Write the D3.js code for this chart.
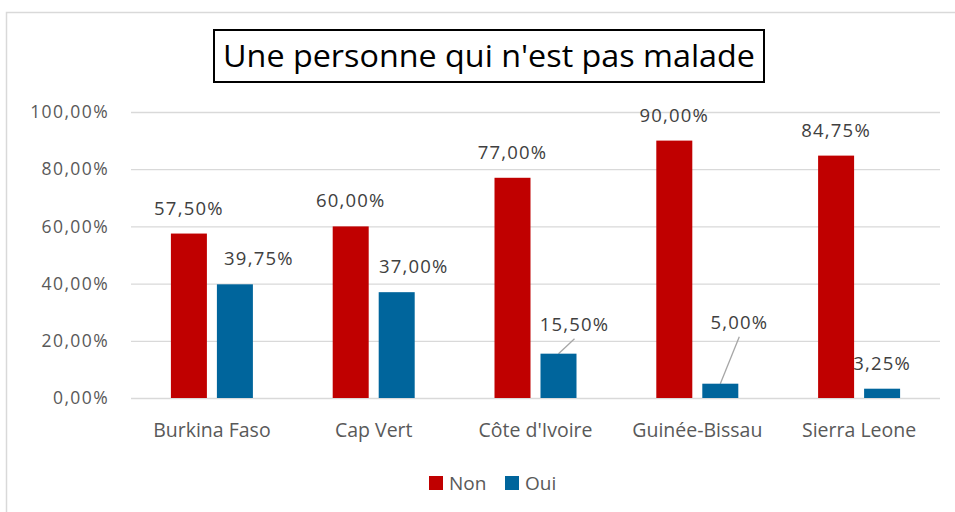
<!DOCTYPE html>
<html>
<head>
<meta charset="utf-8">
<script src="https://cdn.jsdelivr.net/npm/d3@7"></script>
<style>
  body { margin: 0; background: #fff; }
  text { font-family: "Open Sans", sans-serif; }
</style>
</head>
<body>
<script>
// data
const countries = ["Burkina Faso", "Cap Vert", "Côte d'Ivoire", "Guinée-Bissau", "Sierra Leone"]
const non = [0.5750, 0.60, 0.77, 0.90, 0.8475]
const oui = [0.3975, 0.37, 0.155, 0.05, 0.0325]
const yTicks = [0, 0.2, 0.4, 0.6, 0.8, 1.0]
const seriesNames = ["Non", "Oui"]
const colors = ["#c00000", "#00659c"]

// manual label offsets for the Oui labels (dx, dy from default spot)
const ouiLabelShift = [[24, 0], [17, 0], [16, -4], [19, -36], [0, 0]]

const W = 955, H = 512
const svg = d3.select("body").append("svg").attr("width", W).attr("height", H)

svg.append("rect")
    .attr("x", 6.5).attr("y", 12.5)
    .attr("width", W).attr("height", H)
    .attr("fill", "none").attr("stroke", "#d9d9d9").attr("stroke-width", 1.5)

const plotL = 131, plotR = 940, plotT = 112, plotB = 398

const x = d3.scaleBand().domain(countries).range([plotL, plotR])
const y = d3.scaleLinear().domain([0, 1]).range([plotB, plotT])
const barW = 36, gap = 10

const fmt = v => d3.format(".2f")(v * 100).replace(".", ",") + "%"

// gridlines + y labels
svg.append("g")
    .attr("transform", `translate(${plotL},0)`)
    .call(d3.axisLeft(y).tickValues(yTicks).tickSize(-(plotR - plotL)).tickFormat(fmt).tickPadding(22))
    .call(g => g.select(".domain").remove())
    .call(g => g.selectAll("line").attr("stroke", "#d9d9d9").attr("stroke-width", 1.3))
    .call(g => g.selectAll("text").attr("fill", "#595959")
        .style("font-size", "17.5px").style("font-family", "Open Sans").style("letter-spacing", "1.4px"))

// category labels
svg.append("g")
    .attr("transform", `translate(0,${plotB})`)
    .call(d3.axisBottom(x).tickSize(0).tickPadding(25))
    .call(g => g.select(".domain").remove())
    .call(g => g.selectAll("text").attr("fill", "#595959").style("font-size", "19.5px").style("font-family", "Open Sans"))

const series = [non, oui]
const barX = (i, s) => x(countries[i]) + x.bandwidth() / 2 + (s === 0 ? -gap / 2 - barW : gap / 2)

// data labels (under the bars, like the original where the red bar hides part of 3,25%)
series.forEach((vals, s) => {
    svg.append("g").selectAll("text")
        .data(vals)
        .enter()
        .append("text")
        .attr("x", (d, i) => barX(i, s) + barW / 2 + (s === 1 ? ouiLabelShift[i][0] : 0))
        .attr("y", (d, i) => y(d) - 19 + (s === 1 ? ouiLabelShift[i][1] : 0))
        .attr("text-anchor", "middle")
        .attr("fill", "#404040")
        .style("font-size", "18.5px")
        .style("letter-spacing", "1.2px")
        .text(d => fmt(d))
})

// leader lines for the moved labels
const leaders = [2, 3]
svg.append("g").selectAll("line")
    .data(leaders)
    .enter()
    .append("line")
    .attr("x1", i => barX(i, 1) + barW / 2)
    .attr("y1", i => y(oui[i]))
    .attr("x2", i => barX(i, 1) + barW / 2 + ouiLabelShift[i][0])
    .attr("y2", i => y(oui[i]) - 19 + ouiLabelShift[i][1] + 8)
    .attr("stroke", "#a6a6a6")
    .attr("stroke-width", 1.3)

series.forEach((vals, s) => {
    svg.append("g").selectAll("rect")
        .data(vals)
        .enter()
        .append("rect")
        .attr("x", (d, i) => barX(i, s))
        .attr("y", d => y(d))
        .attr("width", barW)
        .attr("height", d => plotB - y(d))
        .attr("fill", colors[s])
})

// title
const titleG = svg.append("g")
titleG.append("rect")
    .attr("x", 214).attr("y", 30).attr("width", 550).attr("height", 52)
    .attr("fill", "#fff").attr("stroke", "#000").attr("stroke-width", 2)
titleG.append("text")
    .attr("x", 489).attr("y", 67)
    .attr("text-anchor", "middle")
    .attr("fill", "#000")
    .style("font-size", "31px")
    .attr("textLength", 532).attr("lengthAdjust", "spacingAndGlyphs")
    .text("Une personne qui n'est pas malade")

// legend
const legend = svg.append("g").selectAll("g")
    .data(seriesNames)
    .enter()
    .append("g")
    .attr("transform", (d, i) => `translate(${429 + i * 76},476)`)
legend.append("rect").attr("width", 14).attr("height", 14).attr("fill", (d, i) => colors[i])
legend.append("text")
    .attr("x", 20).attr("y", 13.5)
    .attr("fill", "#595959")
    .style("font-size", "19px")
    .text(d => d)
</script>
</body>
</html>
